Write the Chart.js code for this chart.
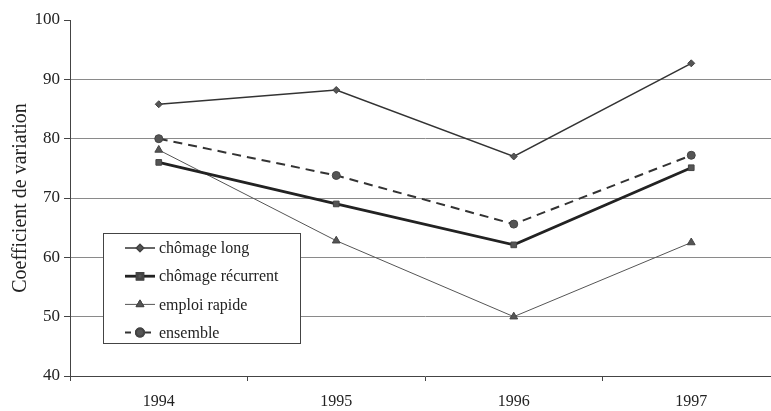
<!DOCTYPE html>
<html>
<head>
<meta charset="utf-8">
<script src="https://cdn.jsdelivr.net/npm/chart.js@4.4.1/dist/chart.umd.min.js"></script>
<style>
  html, body { margin: 0; padding: 0; background: #fff; overflow: hidden; }
  #wrap { width: 771px; height: 411px; overflow: hidden; position: relative; }
  canvas { display: block; }
</style>
</head>
<body>
<div id="wrap"><canvas id="chart" width="790" height="411"></canvas></div>
<script>
const years = ['1994', '1995', '1996', '1997'];
const chomageLong = [85.8, 88.2, 77.0, 92.7];
const chomageRecurrent = [76.0, 69.0, 62.1, 75.1];
const emploiRapide = [78.1, 62.8, 50.0, 62.5];
const ensemble = [80.0, 73.8, 65.6, 77.2];
const seriesNames = ['chômage long', 'chômage récurrent', 'emploi rapide', 'ensemble'];
const yTicks = [40, 50, 60, 70, 80, 90, 100];

const serif = "'Liberation Serif', 'DejaVu Serif', serif";

// legend box drawn inside the plot, lower left
const boxLegend = {
  id: 'boxLegend',
  afterDatasetsDraw(chart) {
    const ctx = chart.ctx;
    const x0 = 103, y0 = 233, w = 197, h = 110;
    ctx.save();
    ctx.fillStyle = '#fff';
    ctx.fillRect(x0, y0, w, h);
    ctx.strokeStyle = '#444';
    ctx.lineWidth = 1;
    ctx.strokeRect(x0 + 0.5, y0 + 0.5, w, h);
    chart.data.datasets.forEach((ds, i) => {
      const y = 248 + i * 28.2;
      ctx.beginPath();
      ctx.strokeStyle = ds.borderColor;
      ctx.lineWidth = ds.borderWidth;
      ctx.setLineDash(ds.borderDash ? [6, 4] : []);
      ctx.moveTo(125, y);
      ctx.lineTo(155, y);
      ctx.stroke();
      ctx.setLineDash([]);
      Chart.helpers.drawPoint(ctx, {
        pointStyle: ds.pointStyle,
        radius: ds.pointRadius,
        borderWidth: 1,
        rotation: 0
      }, 140, y);
      ctx.fillStyle = ds.pointBackgroundColor;
      ctx.strokeStyle = ds.pointBorderColor;
      ctx.fill();
      ctx.stroke();
      ctx.fillStyle = '#222';
      ctx.font = '16px ' + serif;
      ctx.textBaseline = 'middle';
      ctx.fillText(ds.label, 159, y + 1);
    });
    ctx.restore();
  }
};

function line(label, data, opts) {
  return Object.assign({
    label: label,
    data: data,
    borderColor: '#333',
    borderWidth: 1.5,
    pointBackgroundColor: '#555',
    pointBorderColor: '#444',
    pointBorderWidth: 1,
    pointRadius: 4,
    tension: 0,
    fill: false
  }, opts);
}

new Chart(document.getElementById('chart'), {
  type: 'line',
  data: {
    labels: years,
    datasets: [
      line(seriesNames[0], chomageLong, { pointStyle: 'rectRot', pointRadius: 3.5, borderWidth: 1.5, borderColor: '#333' }),
      line(seriesNames[1], chomageRecurrent, { pointStyle: 'rect', pointRadius: 4, borderWidth: 2.8, borderColor: '#222' }),
      line(seriesNames[2], emploiRapide, { pointStyle: 'triangle', pointRadius: 4.5, borderWidth: 1, borderColor: '#555' }),
      line(seriesNames[3], ensemble, { pointStyle: 'circle', pointRadius: 4, borderWidth: 2, borderColor: '#333', borderDash: [9, 6] })
    ]
  },
  options: {
    responsive: false,
    animation: false,
    layout: { padding: { top: 20, right: 10, left: 0, bottom: 0 } },
    plugins: { legend: { display: false }, tooltip: { enabled: false } },
    scales: {
      x: {
        offset: true,
        grid: { drawOnChartArea: false, drawTicks: true, tickLength: 5, tickColor: '#444', offset: true },
        border: { display: true, color: '#444', width: 1 },
        ticks: { color: '#222', font: { family: serif, size: 16 }, padding: 11, maxRotation: 0 },
        afterFit(scale) { scale.height = 35; }
      },
      y: {
        min: 40,
        max: 100,
        afterBuildTicks(scale) { scale.ticks = yTicks.map(v => ({ value: v })); },
        grid: {
          color: ctx => (ctx.tick && (ctx.tick.value === 100 || ctx.tick.value === 40)) ? 'rgba(0,0,0,0)' : '#8a8a8a',
          tickColor: '#444',
          tickLength: 6,
          lineWidth: 1
        },
        border: { display: true, color: '#444', width: 1 },
        ticks: { color: '#222', font: { family: serif, size: 17 }, padding: 4 },
        title: {
          display: true,
          text: 'Coefficient de variation',
          color: '#222',
          font: { family: serif, size: 20 },
          padding: { top: 9, bottom: 0 }
        },
        afterFit(scale) { scale.width = 70; }
      }
    }
  },
  plugins: [boxLegend]
});
</script>
</body>
</html>
